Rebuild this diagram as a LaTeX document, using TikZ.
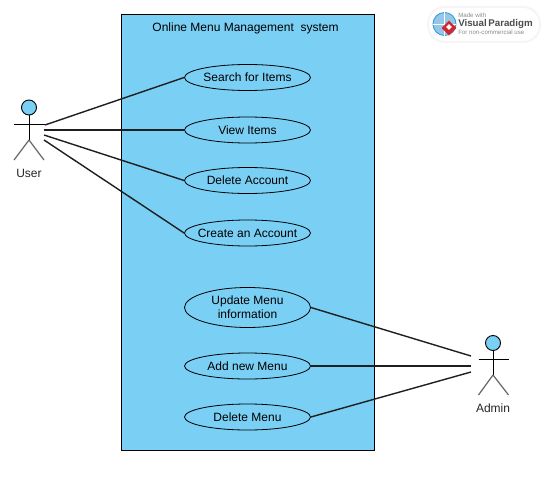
\documentclass[tikz,border=0pt]{standalone}
\usepackage{fontspec}
\setmainfont{Liberation Sans}
\usetikzlibrary{shapes.geometric}
\definecolor{sysblue}{HTML}{7ACFF5}
\definecolor{linedark}{HTML}{1F1F1F}
\definecolor{leggray}{HTML}{666666}
\definecolor{globeblue}{HTML}{3F9AD6}
\definecolor{vpred}{HTML}{D0282E}
\tikzset{
  usecase/.style={draw=black,fill=sysblue,ellipse,minimum width=126*0.75pt,minimum height=26*0.75pt,inner xsep=-15pt,inner ysep=0pt,font=\fontsize{9}{10.8}\selectfont,align=center,line width=0.6pt},
  tallcase/.style={usecase,minimum height=40*0.75pt},
  assoc/.style={draw=linedark,line width=1.05pt},
  actorlabel/.style={font=\fontsize{9}{10.8}\selectfont,text=black!85,inner sep=0pt},
  limb/.style={draw=black,line width=0.7pt},
  leg/.style={draw=leggray,line width=0.9pt},
}
\begin{document}
\begin{tikzpicture}[x=0.75pt,y=-0.75pt]
\useasboundingbox (0,0) rectangle (545,478);
\fill[white] (0,0) rectangle (545,478);
% system
\node[draw=black,fill=sysblue,line width=0.6pt,minimum width=253*0.75pt,minimum height=436*0.75pt,inner sep=0pt] (system) at (247.5,232) {};
\node[font=\fontsize{9}{10.8}\selectfont,inner sep=0pt] (title) at (245.5,28) {Online Menu Management\ \ system};
% use cases
\node[usecase] (search) at (247.5,77.5) {Search for Items};
\node[usecase] (view) at (247.5,130) {View Items};
\node[usecase] (delacc) at (247.5,180.5) {Delete Account};
\node[usecase] (create) at (247.5,233) {Create an Account};
\node[tallcase] (update) at (247.5,307.5) {Update Menu\\information};
\node[usecase] (addmenu) at (247.5,366) {Add new Menu};
\node[usecase] (delmenu) at (247.5,417) {Delete Menu};
% user actor
\node[draw=black,fill=sysblue,circle,minimum size=15*0.75pt,inner sep=0pt,line width=0.7pt] (userhead) at (29,107.5) {};
\coordinate (userhip) at (29,140);
\coordinate (userarml) at (14,124);
\coordinate (userarmr) at (45,124);
\coordinate (userfootl) at (14,160);
\coordinate (userfootr) at (44,160);
\draw[limb] (userhead.south) -- (userhip);
\draw[limb] (userarml) -- (userarmr);
\draw[leg] (userhip) -- (userfootl);
\draw[leg] (userhip) -- (userfootr);
\node[actorlabel] (userlabel) at (29,173) {User};
% admin actor
\node[draw=black,fill=sysblue,circle,minimum size=15*0.75pt,inner sep=0pt,line width=0.7pt] (adminhead) at (493,343) {};
\coordinate (adminhip) at (493,375);
\coordinate (adminarml) at (478.5,359);
\coordinate (adminarmr) at (508.5,359);
\coordinate (adminfootl) at (478.5,395);
\coordinate (adminfootr) at (508.5,395);
\draw[limb] (adminhead.south) -- (adminhip);
\draw[limb] (adminarml) -- (adminarmr);
\draw[leg] (adminhip) -- (adminfootl);
\draw[leg] (adminhip) -- (adminfootr);
\node[actorlabel] (adminlabel) at (493,408) {Admin};
% connectors
\coordinate (ua) at (45,125);
\coordinate (ub) at (44,130);
\coordinate (uc) at (44,135);
\coordinate (ud) at (44,140);
\coordinate (aa) at (471,356);
\coordinate (ab) at (471,366);
\coordinate (ac) at (471,372);
\draw[assoc] (ua) -- (search.west);
\draw[assoc] (ub) -- (view.west);
\draw[assoc] (uc) -- (delacc.west);
\draw[assoc] (ud) -- (create.west);
\draw[assoc] (aa) -- (update.east);
\draw[assoc] (ab) -- (addmenu.east);
\draw[assoc] (ac) -- (delmenu.east);
% badge
\draw[black!4,line width=1.5pt,fill=white,rounded corners=12.5pt] (428,7) rectangle (540,42);
\node[circle,draw=globeblue,fill=globeblue!55,line width=0.7pt,minimum size=23*0.75pt,inner sep=0pt] (globe) at (444.5,24) {};
\draw[white,line width=0.4pt] (globe.west) -- (globe.east) (globe.north) -- (globe.south);
\node[diamond,fill=vpred,minimum size=15*0.75pt,inner sep=0pt] (vpmark) at (449,28) {};
\node[diamond,fill=white,minimum size=6*0.75pt,inner sep=0pt] (vpinner) at (449,27) {};
\node[anchor=west,inner sep=0pt,font=\fontsize{4.6}{6}\selectfont,text=black!45] (made) at (458,15.5) {Made with};
\node[anchor=west,inner sep=0pt,font=\fontsize{7.3}{9}\selectfont\bfseries,text=black!70] (vpname) at (458,24) {Visual\,Paradigm};
\node[anchor=west,inner sep=0pt,font=\fontsize{4.6}{6}\selectfont,text=black!45] (noncom) at (458,32) {For non-commercial use};
\end{tikzpicture}
\end{document}
